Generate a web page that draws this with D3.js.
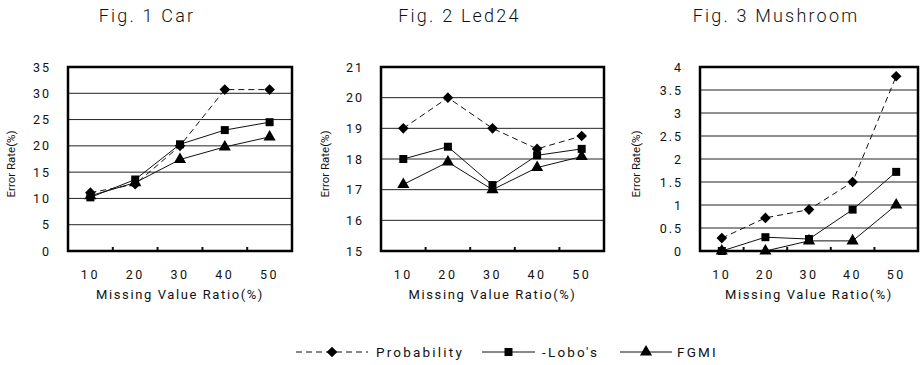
<!DOCTYPE html>
<html>
<head>
<meta charset="utf-8">
<script src="https://cdn.jsdelivr.net/npm/d3@7"></script>
<style>
  html, body { margin: 0; padding: 0; background: #fff; }
  svg { display: block; }
  text { font-family: "Roboto", "Liberation Sans", sans-serif; fill: #111; }
</style>
</head>
<body>
<svg id="chart" width="922" height="365"></svg>
<script>
// Missing value ratio categories shared by all three panels
const ratios = ["10", "20", "30", "40", "50"];

// Fig. 1 Car
const carProbability = [11.1, 12.7, 20.0, 30.7, 30.7];
const carLobo = [10.2, 13.6, 20.3, 23.0, 24.5];
const carFGMI = [10.5, 13.0, 17.4, 19.8, 21.7];
const carTicks = [0, 5, 10, 15, 20, 25, 30, 35];

// Fig. 2 Led24
const ledProbability = [19.0, 20.0, 19.0, 18.33, 18.75];
const ledLobo = [18.0, 18.4, 17.15, 18.12, 18.33];
const ledFGMI = [17.17, 17.9, 17.0, 17.72, 18.08];
const ledTicks = [15, 16, 17, 18, 19, 20, 21];

// Fig. 3 Mushroom
const mushProbability = [0.28, 0.72, 0.9, 1.5, 3.8];
const mushLobo = [0.0, 0.3, 0.26, 0.9, 1.72];
const mushFGMI = [0.0, 0.0, 0.22, 0.22, 1.0];
const mushTicks = [0, 0.5, 1, 1.5, 2, 2.5, 3, 3.5, 4];

const seriesNames = ["Probability", "-Lobo's", "FGMI"];
const panelTitles = ["Fig. 1 Car", "Fig. 2 Led24", "Fig. 3 Mushroom"];

const panels = [
  { title: panelTitles[0], ticks: carTicks, series: [carProbability, carLobo, carFGMI], left: 68, right: 292, yTitle: 53 },
  { title: panelTitles[1], ticks: ledTicks, series: [ledProbability, ledLobo, ledFGMI], left: 381, right: 604, yTitle: 52 },
  { title: panelTitles[2], ticks: mushTicks, series: [mushProbability, mushLobo, mushFGMI], left: 700, right: 918, yTitle: 60 }
];

const plotTop = 67, plotBottom = 251;
const svg = d3.select("#chart");

// marker shapes per series: diamond, square, triangle
const markerSymbols = [
  d3.symbol().type(d3.symbolDiamond2 || d3.symbolDiamond).size(72),
  d3.symbol().type(d3.symbolSquare).size(64),
  d3.symbol().type(d3.symbolTriangle).size(64)
];
const dashes = ["6,4", null, null];

panels.forEach(p => {
  const g = svg.append("g");
  const x = d3.scaleBand().domain(ratios).range([p.left, p.right]);
  const y = d3.scaleLinear().domain(d3.extent(p.ticks)).range([plotBottom, plotTop]);
  const cx = d => x(d) + x.bandwidth() / 2;

  // horizontal gridlines
  g.append("g").selectAll("line")
    .data(p.ticks.slice(1, -1))
    .join("line")
    .attr("x1", p.left).attr("x2", p.right)
    .attr("y1", d => y(d)).attr("y2", d => y(d))
    .attr("stroke", "#222").attr("stroke-width", 1);

  // y axis labels
  const yAxis = d3.axisLeft(y).tickValues(p.ticks).tickSize(0).tickPadding(17)
    .tickFormat(d => String(d));
  g.append("g").attr("transform", `translate(${p.left},0)`).call(yAxis)
    .call(s => s.select(".domain").remove())
    .selectAll("text")
    .attr("font-size", 12.5).attr("letter-spacing", "2px")
    .style("font-family", null);

  // x axis labels
  const xAxis = d3.axisBottom(x).tickSize(0).tickPadding(19);
  g.append("g").attr("transform", `translate(0,${plotBottom})`).call(xAxis)
    .call(s => s.select(".domain").remove())
    .selectAll("text")
    .attr("font-size", 12.5).attr("letter-spacing", "2.5px")
    .style("font-family", null);

  // small ticks between categories on the bottom edge
  g.append("g").selectAll("line")
    .data(ratios.slice(1))
    .join("line")
    .attr("x1", d => x(d)).attr("x2", d => x(d))
    .attr("y1", plotBottom).attr("y2", plotBottom - 4)
    .attr("stroke", "#111").attr("stroke-width", 2);

  // series lines and markers
  p.series.forEach((vals, i) => {
    const line = d3.line().x((d, j) => cx(ratios[j])).y(d => y(d));
    g.append("path").datum(vals)
      .attr("d", line)
      .attr("fill", "none").attr("stroke", "#111").attr("stroke-width", 1)
      .attr("stroke-dasharray", dashes[i]);
    g.append("g").selectAll("path")
      .data(vals)
      .join("path")
      .attr("d", markerSymbols[i])
      .attr("transform", (d, j) => `translate(${cx(ratios[j])},${y(d)})`)
      .attr("fill", "#000");
  });

  // plot frame
  g.append("rect")
    .attr("x", p.left).attr("y", plotTop)
    .attr("width", p.right - p.left).attr("height", plotBottom - plotTop)
    .attr("fill", "none").attr("stroke", "#000").attr("stroke-width", 2.5);

  // y axis title
  g.append("text")
    .attr("transform", `translate(${p.left - p.yTitle},${(plotTop + plotBottom) / 2 + 5}) rotate(-90)`)
    .attr("text-anchor", "middle").attr("font-size", 11.5)
    .text("Error Rate(%)");

  // x axis title
  g.append("text")
    .attr("x", (p.left + p.right) / 2).attr("y", 299)
    .attr("text-anchor", "middle").attr("font-size", 13).attr("letter-spacing", "1.6px")
    .text("Missing Value Ratio(%)");

  // panel title
  g.append("text")
    .attr("x", (p.left + p.right) / 2 - 33).attr("y", 22)
    .attr("text-anchor", "middle").attr("font-size", 18).attr("letter-spacing", "2.2px")
    .attr("font-weight", 300)
    .text(p.title);
});

// legend
const legend = svg.append("g");
const legendY = 352;
const legendItems = [
  { x1: 296, x2: 368, text: 376 },
  { x1: 482, x2: 535, text: 542 },
  { x1: 620, x2: 672, text: 677 }
];
legendItems.forEach((it, i) => {
  legend.append("line")
    .attr("x1", it.x1).attr("x2", it.x2).attr("y1", legendY).attr("y2", legendY)
    .attr("stroke", "#111").attr("stroke-width", 1)
    .attr("stroke-dasharray", dashes[i]);
  legend.append("path")
    .attr("d", markerSymbols[i])
    .attr("transform", `translate(${(it.x1 + it.x2) / 2},${legendY})`)
    .attr("fill", "#000");
  legend.append("text")
    .attr("x", it.text).attr("y", legendY + 5)
    .attr("font-size", 13.5).attr("letter-spacing", "2.2px")
    .text(seriesNames[i]);
});
</script>
</body>
</html>
